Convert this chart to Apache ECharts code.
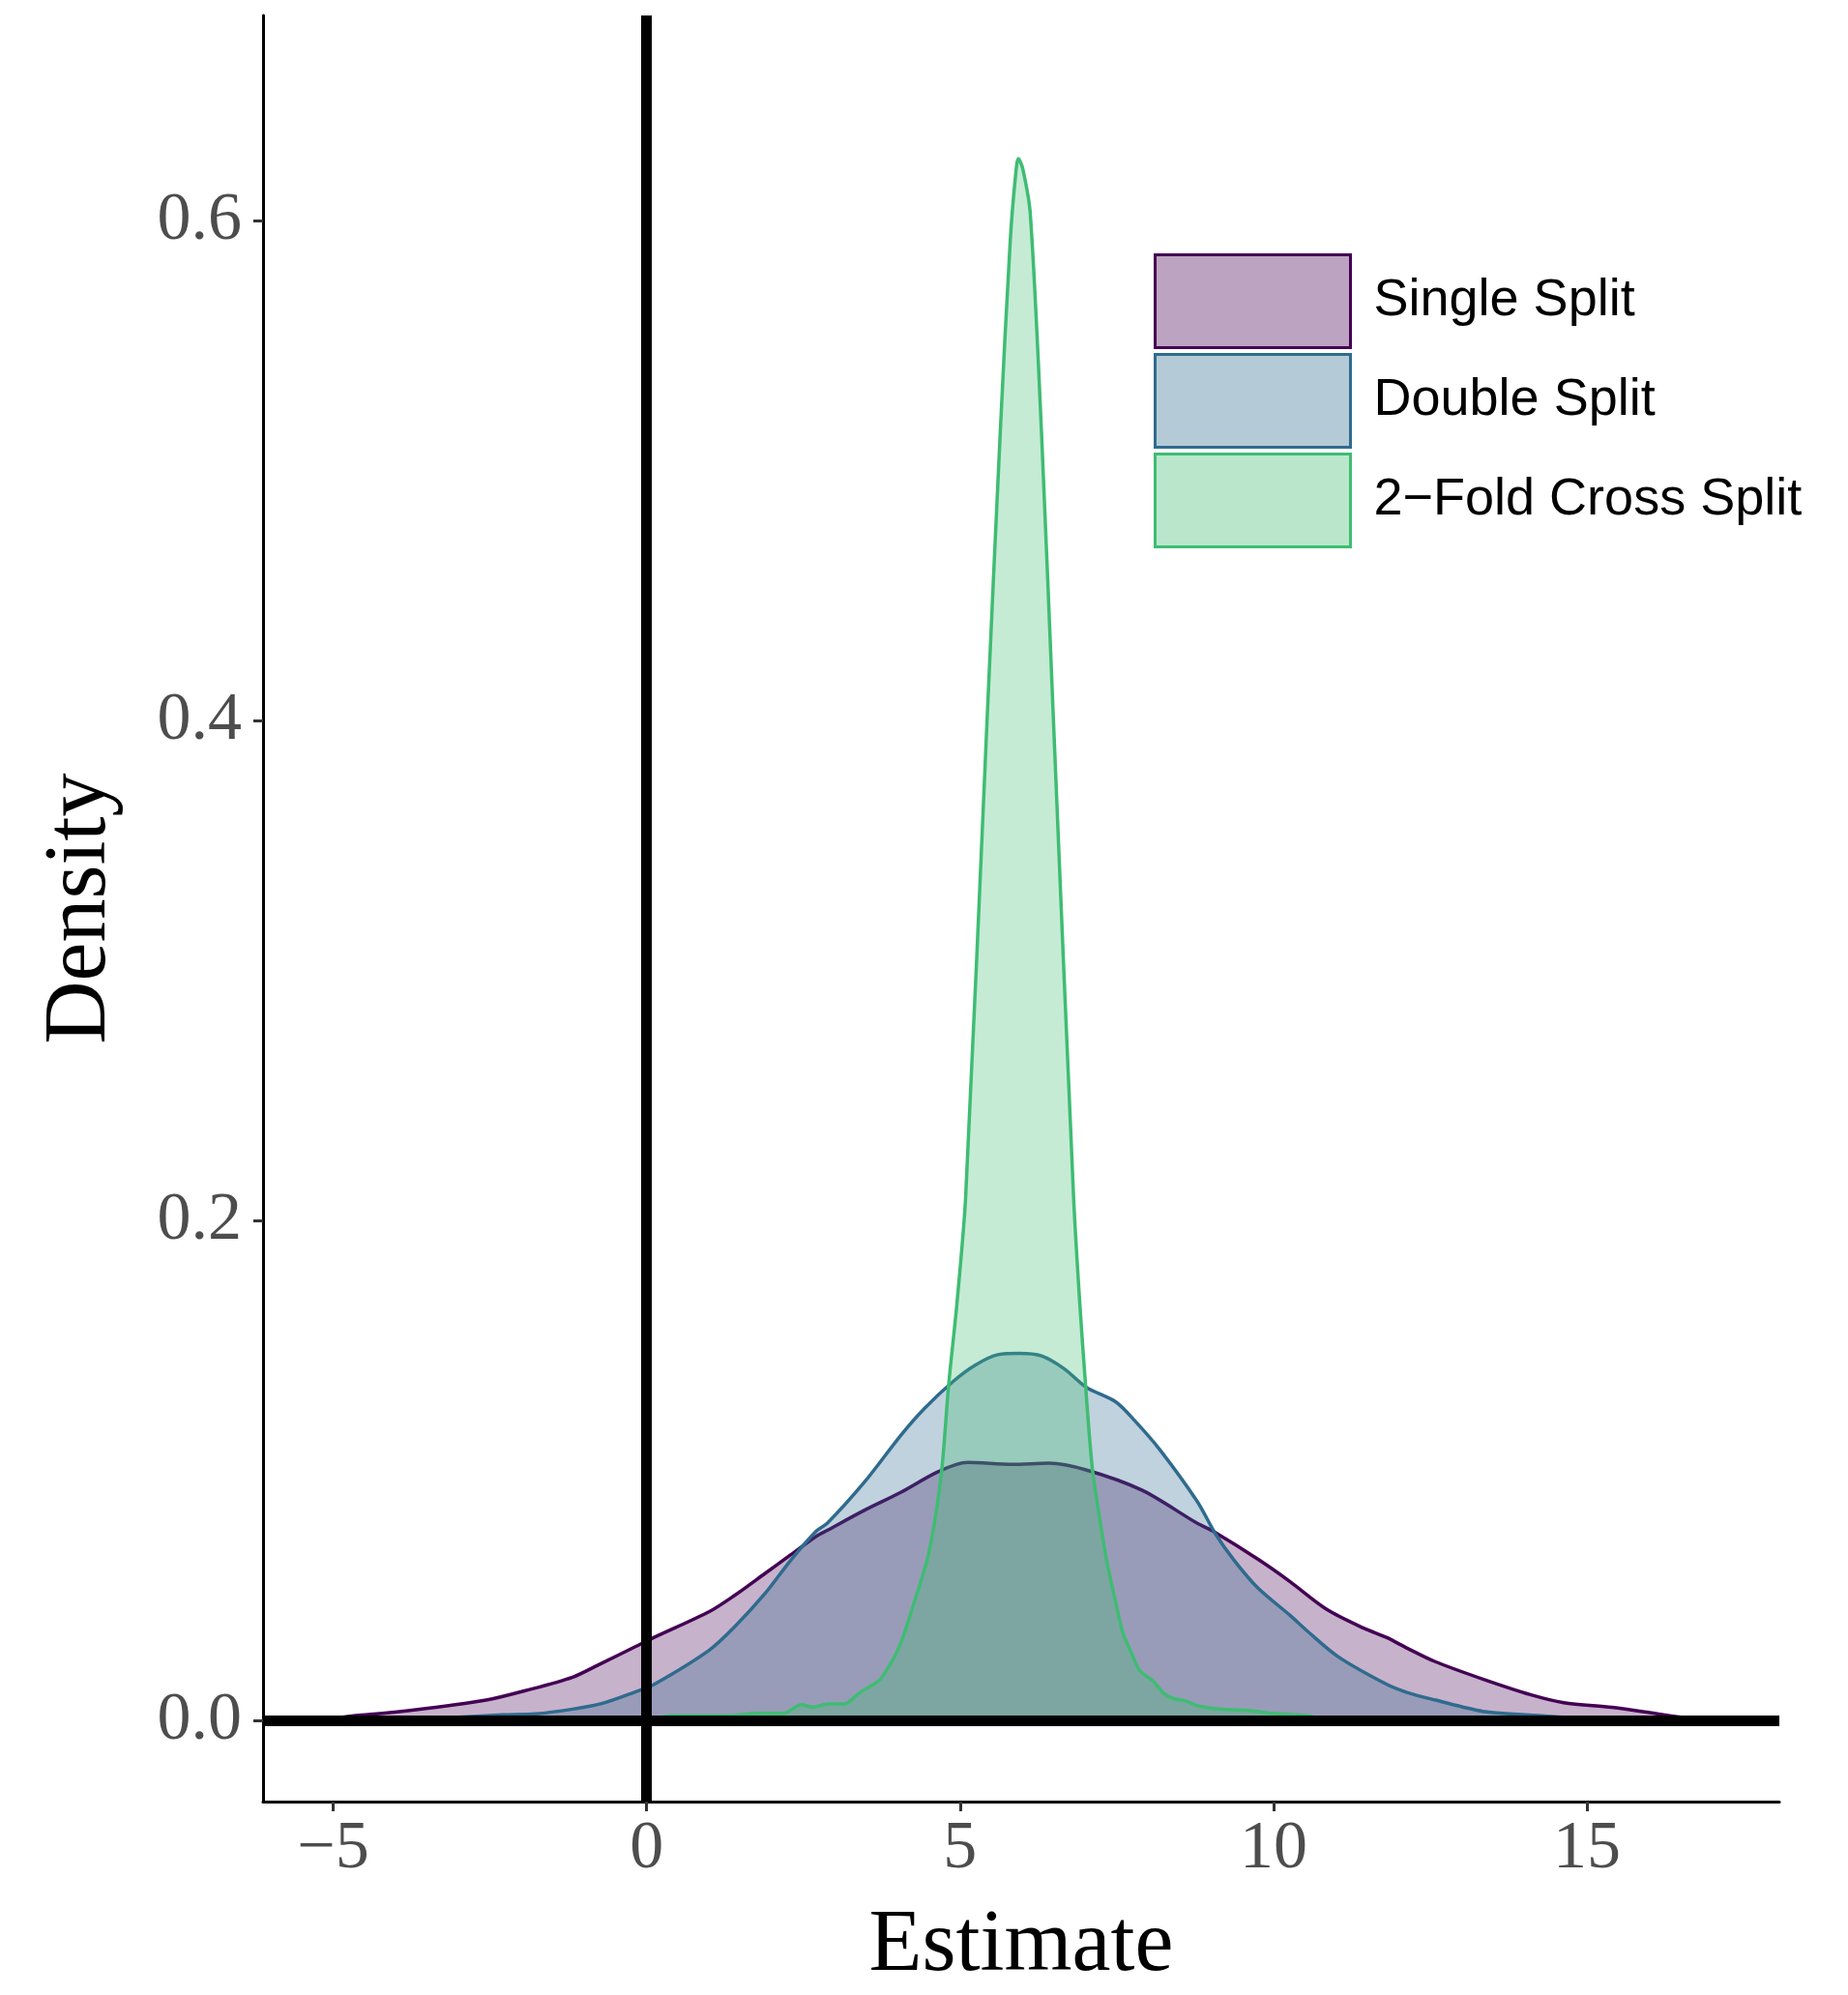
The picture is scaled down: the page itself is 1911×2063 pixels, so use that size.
<!DOCTYPE html>
<html><head><meta charset="utf-8">
<script src="https://cdn.jsdelivr.net/npm/echarts@6/dist/echarts.min.js"></script>
<style>html,body{margin:0;padding:0;background:#fff;overflow:hidden}#c{width:1911px;height:2063px}</style>
</head><body><div id="c"></div>
<script>
const seriesNames = ['Single Split', 'Double Split', '2\u2212Fold Cross Split'];
const lineColors = ['#440154', '#2F6B8E', '#3FBC73'];
const fillColors = ['rgba(68,1,84,0.30)', 'rgba(47,107,142,0.30)', 'rgba(63,188,115,0.30)'];
const keyColors = ['rgba(68,1,84,0.36)', 'rgba(47,107,142,0.36)', 'rgba(63,188,115,0.36)'];
const xTicks = [-5, 0, 5, 10, 15];
const yTicks = [0, 0.2, 0.4, 0.6];

const singleX = [-5.02, -4.6, -4.02, -3.13, -2.54, -1.95, -1.18, -0.77, -0.18, 0.12, 1.0, 1.41, 1.89, 2.3, 2.71, 2.88, 3.47, 4.06, 4.65, 5.12, 5.83, 6.42, 7.01, 7.9, 8.78, 9.02, 9.75, 10.26, 10.85, 11.44, 11.8, 12.14, 12.57, 13.34, 14.11, 14.63, 15.4, 15.92, 16.5, 16.97];
const singleY = [0.0008, 0.0022, 0.0035, 0.0062, 0.0084, 0.012, 0.0175, 0.0224, 0.0297, 0.0334, 0.0437, 0.0503, 0.059, 0.0665, 0.0739, 0.0762, 0.0842, 0.0915, 0.0997, 0.1034, 0.1026, 0.1031, 0.1004, 0.0923, 0.0791, 0.0761, 0.0647, 0.0558, 0.0446, 0.0371, 0.0334, 0.0290, 0.0238, 0.0167, 0.0104, 0.0073, 0.0054, 0.0036, 0.0015, 0.0005];

const doubleX = [-4.0, -3.0, -2.3, -1.77, -1.18, -0.72, -0.18, 0.12, 1.0, 1.41, 1.89, 2.3, 2.71, 2.88, 3.47, 4.06, 4.42, 4.89, 5.24, 5.6, 5.95, 6.3, 6.66, 7.01, 7.48, 7.78, 8.19, 8.78, 9.08, 9.37, 9.75, 10.26, 10.55, 11.03, 11.8, 12.14, 12.57, 13.34, 14.11, 14.88, 15.3];
const doubleY = [0.0003, 0.0015, 0.0024, 0.0028, 0.0047, 0.0069, 0.0116, 0.0146, 0.0283, 0.0378, 0.051, 0.0643, 0.076, 0.079, 0.0954, 0.1144, 0.1247, 0.1358, 0.1423, 0.1465, 0.147, 0.146, 0.1409, 0.1335, 0.1277, 0.1203, 0.1084, 0.0879, 0.0746, 0.0643, 0.0532, 0.0423, 0.0357, 0.0257, 0.0147, 0.0113, 0.0084, 0.0038, 0.0023, 0.001, 0.0003];

const crossX = [0.0, 0.4, 1.3, 1.77, 2.18, 2.47, 2.65, 2.9, 3.16, 3.38, 3.7, 3.82, 4.0, 4.11, 4.3, 4.47, 4.59, 4.71, 4.82, 4.95, 5.09, 5.43, 5.64, 5.8, 5.88, 5.93, 6.0, 6.12, 6.3, 6.49, 6.81, 6.91, 7.0, 7.11, 7.24, 7.34, 7.46, 7.6, 7.72, 7.87, 8.08, 8.25, 8.4, 8.6, 8.8, 9.14, 9.67, 9.96, 10.56, 10.8];
const crossY = [0.0002, 0.002, 0.002, 0.003, 0.003, 0.0065, 0.0055, 0.0068, 0.0068, 0.011, 0.016, 0.02, 0.028, 0.035, 0.05, 0.064, 0.079, 0.101, 0.135, 0.167, 0.21, 0.40, 0.515, 0.592, 0.617, 0.625, 0.621, 0.603, 0.515, 0.40, 0.21, 0.167, 0.135, 0.101, 0.079, 0.064, 0.05, 0.035, 0.028, 0.02, 0.016, 0.011, 0.009, 0.008, 0.006, 0.0047, 0.004, 0.003, 0.002, 0.0002];

const xs = [singleX, doubleX, crossX];
const ys = [singleY, doubleY, crossY];

const chart = echarts.init(document.getElementById('c'), null, {renderer: 'canvas'});
const serif = 'Liberation Serif';
const series = seriesNames.map((name, i) => ({
  name: name,
  type: 'line',
  data: xs[i].map((x, j) => [x, ys[i][j]]),
  showSymbol: false,
  smooth: 0.3,
  z: 2 + i,
  lineStyle: {color: lineColors[i], width: 3.5},
  itemStyle: {color: lineColors[i]},
  areaStyle: {color: fillColors[i], opacity: 1, origin: 'auto'},
  silent: true
}));
series[2].markLine = {
  silent: true,
  symbol: ['none', 'none'],
  label: {show: false},
  lineStyle: {color: '#000', width: 11, type: 'solid'},
  data: [{xAxis: 0}, {yAxis: 0}],
  z: 10
};

chart.setOption({
  animation: false,
  backgroundColor: '#fff',
  grid: {left: 272, top: 16, right: 71, bottom: 189, containLabel: false},
  xAxis: {
    type: 'value', min: -6.12, max: 18.07,
    name: 'Estimate', nameLocation: 'middle', nameGap: 150,
    nameTextStyle: {fontFamily: serif, fontSize: 90, color: '#000', verticalAlign: 'middle'},
    axisLine: {show: true, onZero: false, lineStyle: {color: '#000', width: 3}},
    axisTick: {show: true, length: 10, lineStyle: {color: '#333', width: 3}, customValues: xTicks},
    axisLabel: {customValues: xTicks, fontFamily: serif, fontSize: 70, color: '#4D4D4D', margin: 15,
      formatter: v => (v < 0 ? '\u2212' + Math.abs(v) : String(v))},
    splitLine: {show: false}
  },
  yAxis: {
    type: 'value', min: -0.0323, max: 0.6823,
    name: 'Density', nameLocation: 'middle', nameGap: 188, nameRotate: 90,
    nameTextStyle: {fontFamily: serif, fontSize: 90, color: '#000', verticalAlign: 'middle'},
    axisLine: {show: true, onZero: false, lineStyle: {color: '#000', width: 3}},
    axisTick: {show: true, length: 10, lineStyle: {color: '#333', width: 3}, customValues: yTicks},
    axisLabel: {customValues: yTicks, fontFamily: serif, fontSize: 70, color: '#4D4D4D', margin: 22,
      formatter: v => v.toFixed(1)},
    splitLine: {show: false}
  },
  legend: {
    orient: 'vertical', left: 1193, top: 262, padding: 0,
    itemWidth: 202, itemHeight: 96, itemGap: 4, icon: 'rect',
    selectedMode: false,
    textStyle: {fontFamily: 'Liberation Sans', fontSize: 54, color: '#000', padding: [0, 0, 0, 19]},
    data: seriesNames.map((n, i) => ({
      name: n, icon: 'rect',
      itemStyle: {color: keyColors[i], borderColor: lineColors[i], borderWidth: 3}
    }))
  },
  series: series
});
</script></body></html>
